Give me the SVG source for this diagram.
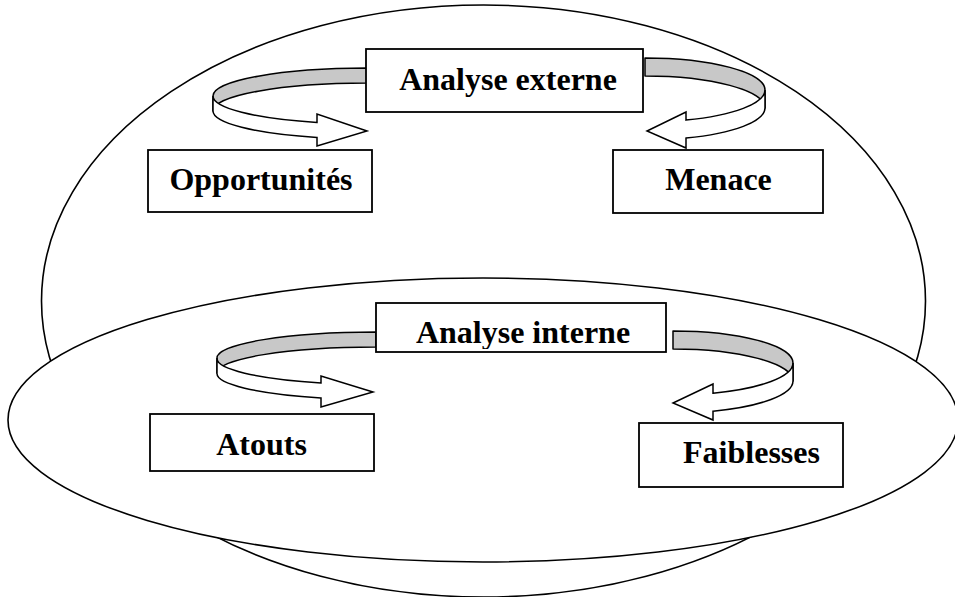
<svg xmlns="http://www.w3.org/2000/svg" width="955" height="597" viewBox="0 0 955 597">
  <style>
    .frame { fill: #ffffff; stroke: #000000; stroke-width: 1.6; }
    .box { fill: #ffffff; stroke: #000000; stroke-width: 1.8; }
    .label { font-family: "Liberation Serif", "Times New Roman", serif; font-weight: bold; font-size: 32px; fill: #000000; text-anchor: middle; }
    .back { fill: #c8c8c8; stroke: #000000; stroke-width: 1.5; stroke-linejoin: round; }
    .front { fill: #ffffff; stroke: #000000; stroke-width: 1.5; stroke-linejoin: miter; }
  </style>
  <defs>
    <clipPath id="clip-interne">
      <rect x="376" y="303" width="290" height="46"/>
    </clipPath>
  </defs>

  <!-- outer ellipse: external analysis -->
  <ellipse id="ellipse-externe" class="frame" cx="483.5" cy="301" rx="442" ry="296"/>
  <!-- lower ellipse: internal analysis -->
  <ellipse id="ellipse-interne" class="frame" cx="483" cy="420" rx="475" ry="142"/>

  <!-- curved ribbon arrows -->
  <g id="connectors">
    <g id="arrow-opportunites">
      <path class="back" d="M367,68 A154,28 0 0,0 213,96 L213,111 A154,28 0 0,1 367,83 Z"/>
      <path class="front" d="M213,96 A154,28 0 0,0 317,122.48 L317,114 L367,131 L317,146 L317,137.48 A154,28 0 0,1 213,111 Z"/>
    </g>
    <g id="arrow-menace">
      <path class="back" d="M645,58 A120,32 0 0,1 765,90 L765,108 A120,32 0 0,0 645,76 Z"/>
      <path class="front" d="M765,90 A120,32 0 0,1 686,120.07 L686,112 L647,131 L686,148 L686,138.07 A120,32 0 0,0 765,108 Z"/>
    </g>
    <g id="arrow-atouts">
      <path class="back" d="M376,332 A159,26 0 0,0 217,358 L217,373 A159,26 0 0,1 376,347 Z"/>
      <path class="front" d="M217,358 A159,26 0 0,0 321,382.9 L321,376 L373,392 L321,407 L321,397.9 A159,26 0 0,1 217,373 Z"/>
    </g>
    <g id="arrow-faiblesses">
      <path class="back" d="M673,331 A120,32 0 0,1 793,363 L793,381 A120,32 0 0,0 673,349 Z"/>
      <path class="front" d="M793,363 A120,32 0 0,1 713,393.17 L713,384 L673,403 L713,420 L713,411.17 A120,32 0 0,0 793,381 Z"/>
    </g>
  </g>

  <g id="node-analyse-externe">
    <rect class="box" x="366" y="49" width="277" height="63"/>
    <text class="label" x="508" y="90">Analyse externe</text>
  </g>
  <g id="node-opportunites">
    <rect class="box" x="148" y="150" width="224" height="62"/>
    <text class="label" x="261" y="190">Opportunités</text>
  </g>
  <g id="node-menace">
    <rect class="box" x="613" y="150" width="210" height="63"/>
    <text class="label" x="718.5" y="190">Menace</text>
  </g>
  <g id="node-analyse-interne">
    <rect class="box" x="376" y="303" width="290" height="49"/>
    <text class="label" x="523" y="343" clip-path="url(#clip-interne)">Analyse interne</text>
  </g>
  <g id="node-atouts">
    <rect class="box" x="150" y="414" width="224" height="57"/>
    <text class="label" x="261.5" y="455">Atouts</text>
  </g>
  <g id="node-faiblesses">
    <rect class="box" x="639" y="423" width="204" height="64"/>
    <text class="label" x="751.5" y="463">Faiblesses</text>
  </g>
</svg>
